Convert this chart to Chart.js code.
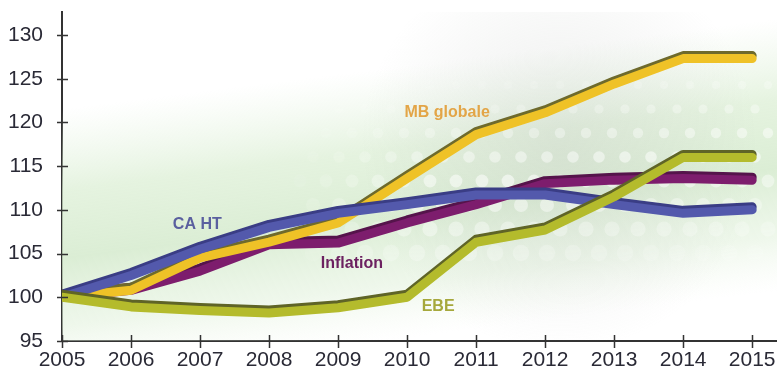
<!DOCTYPE html>
<html lang="fr">
<head>
<meta charset="UTF-8">
<title>Évolution base 100</title>
<script src="https://cdn.jsdelivr.net/npm/chart.js"></script>
<style>
  html, body { margin: 0; padding: 0; background: #fff; }
  #wrap { position: relative; width: 777px; height: 375px; }
</style>
</head>
<body>
<div id="wrap"><canvas id="graf"></canvas></div>
<script>
// années et indices (base 100 en 2005)
const annees = [2005, 2006, 2007, 2008, 2009, 2010, 2011, 2012, 2013, 2014, 2015];
const mbGlobale = [100, 100.8, 104.5, 106.3, 108.5, 113.6, 118.6, 121.1, 124.4, 127.3, 127.3];
const caHT = [100, 102.5, 105.5, 108, 109.6, 110.6, 111.7, 111.7, 110.6, 109.6, 110];
const inflation = [100, 100.8, 103, 106, 106.2, 108.5, 110.6, 113, 113.4, 113.6, 113.4];
const ebe = [100, 98.9, 98.5, 98.2, 98.8, 100, 106.3, 107.7, 111.5, 116, 116];
const graduationsY = [95, 100, 105, 110, 115, 120, 125, 130];

function points(valeurs) {
    return valeurs.map((v, i) => ({ x: annees[i], y: v }));
}

// fond : bande verte diagonale + points blancs
const fond = {
    id: 'fond',
    beforeDatasetsDraw(chart) {
        const { ctx, chartArea: a } = chart;
        ctx.save();
        ctx.beginPath();
        ctx.rect(a.left, a.top, a.right - a.left, a.bottom - a.top);
        ctx.clip();
        const cx = 420, cy = 200;
        const nx = 0.125, ny = 0.992;
        const g = ctx.createLinearGradient(cx - nx * 135, cy - ny * 135, cx + nx * 135, cy + ny * 135);
        g.addColorStop(0, 'rgba(225,242,220,0)');
        g.addColorStop(0.3, 'rgba(218,238,210,0.7)');
        g.addColorStop(0.55, 'rgba(210,233,202,0.8)');
        g.addColorStop(0.8, 'rgba(225,241,219,0.55)');
        g.addColorStop(1, 'rgba(238,247,233,0)');
        ctx.fillStyle = g;
        ctx.fillRect(a.left, a.top, a.right - a.left, a.bottom - a.top);

        // voile gris
        const gris = ctx.createRadialGradient(560, 150, 5, 560, 150, 200);
        gris.addColorStop(0, 'rgba(190,195,190,0.3)');
        gris.addColorStop(1, 'rgba(190,195,190,0)');
        ctx.fillStyle = gris;
        ctx.fillRect(a.left, a.top, a.right - a.left, a.bottom - a.top);

        // rangées de points blancs
        for (let r = 0; r < 8; r++) {
            const y = 85 + r * 24;
            for (let x = 300 + (r % 2) * 13; x < a.right; x += 26) {
                const d = Math.abs((y - (240 - (x - 62) * 0.126)) / 110);
                const alpha = Math.max(0, 0.55 - d * 0.5) * Math.min(1, (x - 280) / 150);
                if (alpha <= 0) continue;
                ctx.fillStyle = 'rgba(255,255,255,' + alpha.toFixed(2) + ')';
                ctx.beginPath();
                ctx.arc(x, y, 4 + r * 0.6, 0, Math.PI * 2);
                ctx.fill();
            }
        }
        ctx.restore();
    }
};

// liseré sombre au-dessus de chaque courbe
const relief = {
    id: 'relief',
    beforeDatasetDraw(chart, args) {
        const ds = chart.data.datasets[args.index];
        const ctx = chart.ctx;
        ctx.save();
        ctx.shadowColor = ds.liseré;
        ctx.shadowOffsetX = 0;
        ctx.shadowOffsetY = -3;
        ctx.shadowBlur = 0.5;
    },
    afterDatasetDraw(chart) {
        chart.ctx.restore();
    }
};

// graduations qui traversent les axes + étiquettes des courbes
const habillage = {
    id: 'habillage',
    afterDraw(chart) {
        const { ctx, scales: { x, y } } = chart;
        ctx.save();
        ctx.strokeStyle = '#333';
        ctx.lineWidth = 1.5;
        ctx.beginPath();
        annees.forEach(a => {
            const px = Math.round(x.getPixelForValue(a)) + 0.5;
            ctx.moveTo(px, y.bottom - 6);
            ctx.lineTo(px, y.bottom + 7);
        });
        graduationsY.forEach(v => {
            const py = Math.round(y.getPixelForValue(v)) + 0.5;
            ctx.moveTo(x.left - 5, py);
            ctx.lineTo(x.left + 6, py);
        });
        ctx.stroke();

        ctx.font = 'bold 16px "Liberation Sans", Arial, sans-serif';
        ctx.textAlign = 'center';
        ctx.textBaseline = 'middle';
        chart.data.datasets.forEach(ds => {
            ctx.fillStyle = ds.couleurTexte;
            ctx.fillText(ds.label, x.getPixelForValue(ds.etiquette[0]), y.getPixelForValue(ds.etiquette[1]));
        });
        ctx.restore();
    }
};

const police = { family: '"Liberation Sans", Arial, sans-serif', size: 21 };

new Chart(document.getElementById('graf'), {
    type: 'line',
    data: {
        datasets: [
            { label: 'EBE', data: points(ebe), borderColor: '#b4bb2c', liseré: '#5f6427', couleurTexte: '#a6a83c', etiquette: [2010.45, 98.9] },
            { label: 'CA HT', data: points(caHT), borderColor: '#5359ac', liseré: '#3a3d85', couleurTexte: '#5a5f9f', etiquette: [2006.96, 108.3] },
            { label: 'MB globale', data: points(mbGlobale), borderColor: '#efc227', liseré: '#6e6a2c', couleurTexte: '#e3a547', etiquette: [2010.58, 121.1] },
            { label: 'Inflation', data: points(inflation), borderColor: '#7d1d6d', liseré: '#55144b', couleurTexte: '#6c2160', etiquette: [2009.2, 103.8] }
        ].map(d => Object.assign(d, {
            borderWidth: 9,
            pointRadius: 0,
            tension: 0,
            borderCapStyle: 'round',
            borderJoinStyle: 'round',
            fill: false
        }))
    },
    options: {
        responsive: true,
        maintainAspectRatio: false,
        animation: false,
        layout: { padding: { left: 8, top: 12, right: 0, bottom: 2 } },
        plugins: { legend: { display: false }, tooltip: { enabled: false } },
        scales: {
            x: {
                type: 'linear',
                min: 2005,
                max: 2015.36,
                afterBuildTicks: s => { s.ticks = annees.map(v => ({ value: v })); },
                afterFit: s => { s.paddingLeft = 0; s.paddingRight = 0; s.height = 32; },
                grid: { display: false, drawTicks: false },
                border: { color: '#333', width: 2 },
                ticks: { color: '#2a2a36', font: police, padding: 7, maxRotation: 0, autoSkip: false, callback: v => String(v) }
            },
            y: {
                min: 95,
                max: 132.63,
                afterBuildTicks: s => { s.ticks = graduationsY.map(v => ({ value: v })); },
                afterFit: s => { s.paddingTop = 0; s.paddingBottom = 0; s.width = 54; },
                grid: { display: false, drawTicks: false },
                border: { color: '#333', width: 2 },
                ticks: { color: '#2a2a36', font: police, padding: 19, autoSkip: false }
            }
        }
    },
    plugins: [fond, relief, habillage]
});
</script>
</body>
</html>
